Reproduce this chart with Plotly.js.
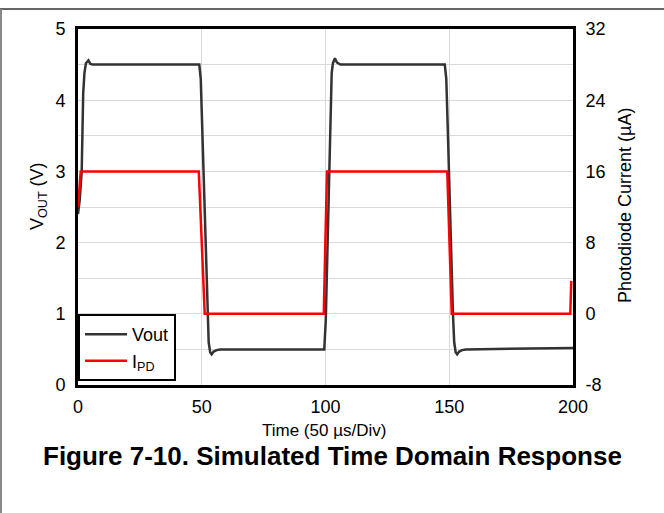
<!DOCTYPE html>
<html>
<head>
<meta charset="utf-8">
<script src="https://cdn.plot.ly/plotly-3.0.1.min.js"></script>
<style>html,body{margin:0;padding:0;background:#fff;}#chart{width:664px;height:513px;}</style>
</head>
<body>
<div id="chart"></div>
<script>
// Time (µs) and Vout (V)
const voutTime = [0, 0.7, 1.5, 2.1, 2.6, 3.2, 4.2, 5, 6,
  49.0, 49.6, 50.2, 50.9, 51.7, 52.3, 52.8, 53.4, 54.0, 54.8, 56, 57.5,
  99.5, 100.1, 100.6, 101.1, 101.5, 102.1, 102.5, 103, 103.8, 104.6, 106,
  148.2, 148.8, 149.4, 150.1, 150.9, 151.5, 152.0, 152.6, 153.2, 154.0, 155.2, 156.7,
  200];
const voutValues = [2.4, 2.6, 3.0, 4.1, 4.38, 4.52, 4.56, 4.51, 4.5,
  4.5, 4.3, 3.6, 2.7, 1.6, 1.0, 0.6, 0.46, 0.43, 0.47, 0.49, 0.5,
  0.5, 0.9, 1.6, 2.4, 3.0, 3.9, 4.38, 4.52, 4.59, 4.53, 4.5,
  4.5, 4.3, 3.6, 2.7, 1.6, 1.0, 0.6, 0.46, 0.43, 0.47, 0.49, 0.5,
  0.52];
// Time (µs) and photodiode current (µA)
const ipdTime = [0, 1.1, 48.8, 51.2, 99.3, 100.6, 149.2, 151.0, 198.9, 199.3];
const ipdValues = [12, 16, 16, 0, 0, 16, 16, 0, 0, 3.7];

const xTicks = [0, 50, 100, 150, 200];
const yTicks = [0, 1, 2, 3, 4, 5];
const y2Ticks = [-8, 0, 8, 16, 24, 32];

const FONT = 'Liberation Sans, Arial, sans-serif';

const traces = [
  {x: voutTime, y: voutValues, name: 'Vout', type: 'scatter', mode: 'lines',
   line: {color: '#333333', width: 2.5}, yaxis: 'y'},
  {x: ipdTime, y: ipdValues, name: 'I<sub>PD</sub>', type: 'scatter', mode: 'lines',
   line: {color: '#ff0000', width: 2.5}, yaxis: 'y2'}
];

const W = 495, H = 356, L = 78, T = 29;
function px(x){ return (x - L) / W; }
function py(y){ return (T + H - y) / H; }

const layout = {
  width: 664, height: 513,
  margin: {l: L, r: 664 - L - W, t: T, b: 513 - T - H, pad: 0},
  paper_bgcolor: '#ffffff', plot_bgcolor: '#ffffff',
  font: {family: FONT, size: 18, color: '#000'},
  showlegend: true,
  legend: {x: 0, y: 0.011, xanchor: 'left', yanchor: 'bottom',
    bgcolor: '#ffffff', bordercolor: '#000', borderwidth: 2,
    font: {family: FONT, size: 18, color: '#000'}, itemwidth: 42, tracegroupgap: 0},
  xaxis: {range: [0, 200], tickvals: xTicks, ticktext: xTicks.map(String),
    showgrid: true, gridcolor: '#d9d9d9', gridwidth: 1,
    showline: true, linecolor: '#000', linewidth: 3, mirror: true,
    ticks: '', zeroline: false, ticklabelstandoff: 3,
    tickfont: {family: FONT, size: 18, color: '#000'}},
  yaxis: {range: [0, 5], tickvals: yTicks, ticktext: yTicks.map(String),
    showgrid: true, gridcolor: '#d9d9d9', gridwidth: 1,
    minor: {dtick: 0.5, showgrid: true, gridcolor: '#d9d9d9', gridwidth: 1},
    showline: true, linecolor: '#000', linewidth: 3, mirror: true,
    ticks: '', zeroline: false, ticklabelstandoff: 6,
    tickfont: {family: FONT, size: 18, color: '#000'}},
  yaxis2: {range: [-8, 32], tickvals: y2Ticks, ticktext: y2Ticks.map(String),
    overlaying: 'y', side: 'right', showgrid: false, zeroline: false,
    showline: true, linecolor: '#000', linewidth: 3, ticks: '', ticklabelstandoff: 6,
    tickfont: {family: FONT, size: 18, color: '#000'}},
  annotations: [
    {xref: 'paper', yref: 'paper', x: px(324), y: py(430), xanchor: 'center', yanchor: 'middle',
     text: 'Time (50 \u00b5s/Div)', showarrow: false, font: {family: FONT, size: 17, color: '#000'}},
    {xref: 'paper', yref: 'paper', x: px(332), y: py(456), xanchor: 'center', yanchor: 'middle',
     text: '<b>Figure 7-10. Simulated Time Domain Response</b>', showarrow: false,
     font: {family: FONT, size: 26, color: '#000'}},
    {xref: 'paper', yref: 'paper', x: px(38), y: py(196), xanchor: 'center', yanchor: 'middle',
     text: 'V<sub>OUT</sub> (V)', textangle: -90, showarrow: false,
     font: {family: FONT, size: 18, color: '#000'}},
    {xref: 'paper', yref: 'paper', x: px(625), y: py(206), xanchor: 'center', yanchor: 'middle',
     text: 'Photodiode Current (\u00b5A)', textangle: -90, showarrow: false,
     font: {family: FONT, size: 18, color: '#000'}}
  ],
  shapes: [
    {type: 'line', xref: 'paper', yref: 'paper', x0: px(0), x1: px(664), y0: py(9), y1: py(9),
     line: {color: '#666666', width: 2}},
    {type: 'line', xref: 'paper', yref: 'paper', x0: px(1), x1: px(1), y0: py(9), y1: py(513),
     line: {color: '#888888', width: 2}}
  ]
};

Plotly.newPlot('chart', traces, layout, {displayModeBar: false, staticPlot: true});
</script>
</body>
</html>
